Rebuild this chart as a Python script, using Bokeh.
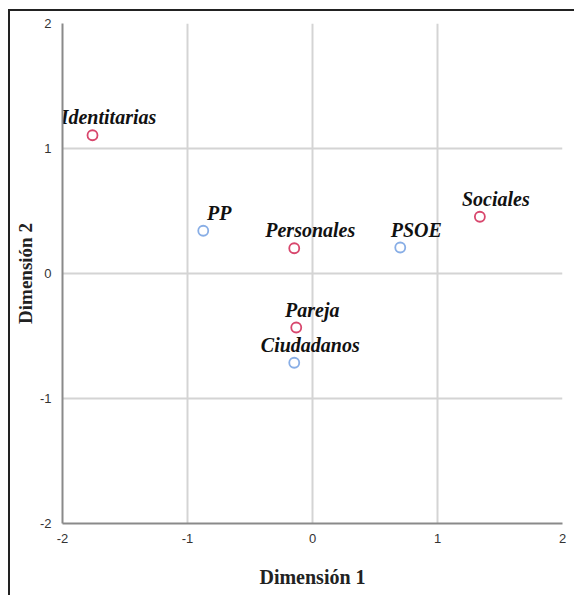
from bokeh.plotting import figure
from bokeh.models import Range1d, FixedTicker, ColumnDataSource
from bokeh.core.properties import value
from bokeh.embed import file_html
from bokeh.resources import INLINE

# Category points (red)
cat_names = ["Identitarias", "Personales", "Sociales", "Pareja"]
cat_x = [-1.76, -0.146, 1.339, -0.130]
cat_y = [1.106, 0.202, 0.454, -0.432]

# Party points (blue)
party_names = ["PP", "PSOE", "Ciudadanos"]
party_x = [-0.874, 0.702, -0.146]
party_y = [0.342, 0.208, -0.714]

ticks = [-2, -1, 0, 1, 2]
tick_labels = ["-2", "-1", "0", "1", "2"]
x_title = "Dimensión 1"
y_title = "Dimensión 2"

RED = "#d8476d"
BLUE = "#88aee6"

p = figure(width=566, height=586, output_backend="svg", toolbar_location=None,
           x_range=Range1d(-2, 2), y_range=Range1d(-2, 2),
           min_border_left=52, min_border_right=14, min_border_top=12, min_border_bottom=74)
p.styles = {"border-top": "2px solid #222222", "border-left": "2px solid #222222",
            "margin-left": "8px", "margin-top": "9px"}
p.outline_line_color = None
p.background_fill_color = "white"
p.border_fill_color = "white"

overrides = {t: l for t, l in zip(ticks, tick_labels)}
for ax in (p.xaxis[0], p.yaxis[0]):
    ax.ticker = FixedTicker(ticks=ticks)
    ax.major_label_overrides = overrides
    ax.major_tick_in = 0
    ax.major_tick_out = 0
    ax.minor_tick_in = 0
    ax.minor_tick_out = 0
    ax.axis_line_color = "#8a8a8a"
    ax.axis_line_width = 2
    ax.major_label_text_font = "Liberation Sans"
    ax.major_label_text_font_size = "13px"
    ax.major_label_text_color = "#333333"
    ax.axis_label_text_font = "Liberation Serif"
    ax.axis_label_text_font_style = "bold"
    ax.axis_label_text_color = "#222222"

p.xaxis.major_label_standoff = 10
p.yaxis.major_label_standoff = 11
p.xaxis.axis_label = x_title
p.xaxis.axis_label_text_font_size = "20px"
p.xaxis.axis_label_standoff = 20
p.yaxis.axis_label = y_title
p.yaxis.axis_label_text_font_size = "19px"
p.yaxis.axis_label_standoff = 1

for g in (p.xgrid[0], p.ygrid[0]):
    g.ticker = FixedTicker(ticks=ticks)
    g.grid_line_color = "#d4d4d4"
    g.grid_line_width = 2

cat_src = ColumnDataSource(dict(x=cat_x, y=cat_y, name=cat_names))
party_src = ColumnDataSource(dict(x=party_x, y=party_y, name=party_names))

p.scatter("x", "y", source=cat_src, size=10, fill_color="white", line_color=RED, line_width=1.8)
p.scatter("x", "y", source=party_src, size=10, fill_color="white", line_color=BLUE, line_width=1.8)

for src in (cat_src, party_src):
    p.text("x", "y", text="name", source=src, x_offset=16, y_offset=-18,
           text_align="center", text_baseline="middle",
           text_font=value("Liberation Serif"), text_font_style="bold italic",
           text_font_size="20px", text_color="#111111")

open("out.html", "w").write(file_html(p, INLINE))
